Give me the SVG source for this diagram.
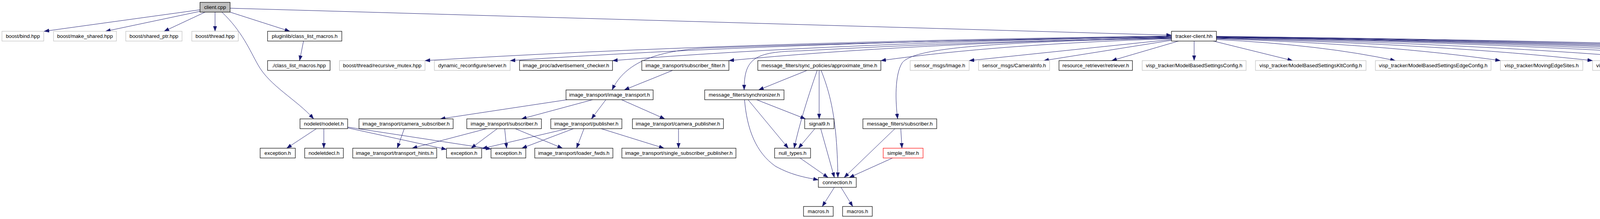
<svg xmlns="http://www.w3.org/2000/svg" width="5603" height="560" viewBox="0 0 5603 560">
<style>
rect{fill:#fff;stroke:#000;stroke-width:1.2}
.g rect{stroke:#bfbfbf}
.r rect{stroke:#ff0000}
.c rect{fill:#bfbfbf}
text{font-family:"Liberation Sans",Arial,sans-serif;font-size:13.3px;text-anchor:middle;fill:#000}
#edges path{fill:none;stroke:#191970;stroke-width:1;marker-end:url(#a)}
</style>
<defs>
<marker id="a" markerUnits="userSpaceOnUse" markerWidth="14" markerHeight="10" refX="13" refY="4.7" orient="auto">
<path d="M0,0 L13,4.7 L0,9.4 z" fill="#191970" stroke="#191970" stroke-width="0.5"/>
</marker>
</defs>
<rect x="0" y="0" width="5603" height="560" style="fill:#fff;stroke:none"/>
<g id="edges">
<path d="M512,25 L113,80"/>
<path d="M512,29 L270,80"/>
<path d="M525,31 L420,80"/>
<path d="M550.5,31 L550.5,80"/>
<path d="M589,31 L742,80"/>
<path d="M589,21 L2999,90"/>
<path d="M568,31 C620,80 640,130 660,165 C690,220 760,255 803,304"/>
<path d="M777,105 L767,155"/>
<path d="M2999,92 Q1852,108 1088,155"/>
<path d="M2999,93 Q1983,108.5 1306,155"/>
<path d="M2999,94 Q2141,109 1568,155"/>
<path d="M2999,95 Q2300,105 1804,123 C1680,130 1600,160 1567,230"/>
<path d="M2999,96 Q2319,111 1866,155"/>
<path d="M2999,97 Q2500,105 2050,130 C1930,132 1905,150 1905,230"/>
<path d="M2999,98 C2500,108 2340,125 2310,160 C2290,190 2292,260 2298,304"/>
<path d="M2999,99 Q2553,113 2255,155"/>
<path d="M2999,101 L2481,155"/>
<path d="M2999,103 L2672,155"/>
<path d="M3017,105 L2846,155"/>
<path d="M3057,105 L3057,155"/>
<path d="M3106,105 L3309,155"/>
<path d="M3114,101 Q3389,115 3572,155"/>
<path d="M3114,99 Q3550,113 3841,155"/>
<path d="M3114,98 Q3692,112.5 4077,155"/>
<path d="M3114,97 Q3819,112 4289,155"/>
<path d="M3114,96 Q3951,111 4509,155"/>
<path d="M3114,95 Q4031,110 4643,155"/>
<path d="M3114,95 Q4129,110 4805,155"/>
<path d="M3114,94 Q4199,109.5 4922,155"/>
<path d="M3114,94 Q4295,109.5 5082,155"/>
<path d="M3114,93 Q4372,109 5211,155"/>
<path d="M3114,93 Q4501,109 5425,155"/>
<path d="M1722,180 L1598,230"/>
<path d="M1452,255 L1127,304"/>
<path d="M1517,255 L1335,304"/>
<path d="M1551,255 L1514,304"/>
<path d="M1591,255 L1702,304"/>
<path d="M810,329 L734,379"/>
<path d="M829,329 L829,379"/>
<path d="M890,327 L1143,382"/>
<path d="M890,325 L1257,381"/>
<path d="M1035,329 L1017,379"/>
<path d="M1246,329 L1055,379"/>
<path d="M1273,329 L1206,379"/>
<path d="M1292,329 L1297,379"/>
<path d="M1319,329 L1440,379"/>
<path d="M1452,329 L1234,380"/>
<path d="M1468,329 L1336,379"/>
<path d="M1495,329 L1476,379"/>
<path d="M1539,329 L1700,379"/>
<path d="M1737,329 L1737,379"/>
<path d="M1906,255 C1912,330 1935,390 1985,425 C2030,450 2070,455 2095,460"/>
<path d="M1915,255 L2018,379"/>
<path d="M1937,255 L2062,304"/>
<path d="M2066,180 L1942,230"/>
<path d="M2092,180 Q2050,300 2033,379"/>
<path d="M2097,180 L2097,304"/>
<path d="M2102,180 C2130,250 2143,320 2145,454"/>
<path d="M2086,329 L2044,379"/>
<path d="M2101,329 L2136,454"/>
<path d="M2048,404 L2120,454"/>
<path d="M2291,329 L2161,454"/>
<path d="M2306,329 L2309,379"/>
<path d="M2285,404 L2174,454"/>
<path d="M2136,479 L2105,528"/>
<path d="M2153,479 L2183,528"/>
</g>
<g id="n_client" class="c"><rect x="512" y="6" width="77" height="25"/><text x="550.5" y="23">client.cpp</text></g>
<g id="n_bind" class="g"><rect x="5" y="80" width="107" height="25"/><text x="58.5" y="97">boost/bind.hpp</text></g>
<g id="n_make_shared" class="g"><rect x="137" y="80" width="161" height="25"/><text x="217.5" y="97">boost/make_shared.hpp</text></g>
<g id="n_shared_ptr" class="g"><rect x="322" y="80" width="144" height="25"/><text x="394" y="97">boost/shared_ptr.hpp</text></g>
<g id="n_thread" class="g"><rect x="491" y="80" width="119" height="25"/><text x="550.5" y="97">boost/thread.hpp</text></g>
<g id="n_pluginlib"><rect x="685" y="80" width="190" height="25"/><text x="780" y="97">pluginlib/class_list_macros.h</text></g>
<g id="n_tracker"><rect x="2999" y="80" width="115" height="25"/><text x="3056.5" y="97">tracker-client.hh</text></g>
<g id="n_clm_hpp"><rect x="685" y="155" width="160" height="25"/><text x="765" y="172">./class_list_macros.hpp</text></g>
<g id="n_recursive" class="g"><rect x="869" y="155" width="219" height="25"/><text x="978.5" y="172">boost/thread/recursive_mutex.hpp</text></g>
<g id="n_dynamic" class="g"><rect x="1112" y="155" width="194" height="25"/><text x="1209" y="172">dynamic_reconfigure/server.h</text></g>
<g id="n_advert"><rect x="1330" y="155" width="238" height="25"/><text x="1449" y="172">image_proc/advertisement_checker.h</text></g>
<g id="n_subfilter"><rect x="1643" y="155" width="223" height="25"/><text x="1754.5" y="172">image_transport/subscriber_filter.h</text></g>
<g id="n_approx"><rect x="1940" y="155" width="315" height="25"/><text x="2097.5" y="172">message_filters/sync_policies/approximate_time.h</text></g>
<g id="n_image" class="g"><rect x="2330" y="155" width="151" height="25"/><text x="2405.5" y="172">sensor_msgs/Image.h</text></g>
<g id="n_caminfo" class="g"><rect x="2505" y="155" width="182" height="25"/><text x="2596" y="172">sensor_msgs/CameraInfo.h</text></g>
<g id="n_retriever"><rect x="2711" y="155" width="188" height="25"/><text x="2805" y="172">resource_retriever/retriever.h</text></g>
<g id="n_mbs" class="g"><rect x="2924" y="155" width="266" height="25"/><text x="3057" y="172">visp_tracker/ModelBasedSettingsConfig.h</text></g>
<g id="n_mbsklt" class="g"><rect x="3214" y="155" width="283" height="25"/><text x="3355.5" y="172">visp_tracker/ModelBasedSettingsKltConfig.h</text></g>
<g id="n_mbsedge" class="g"><rect x="3521" y="155" width="296" height="25"/><text x="3669" y="172">visp_tracker/ModelBasedSettingsEdgeConfig.h</text></g>
<g id="n_mes" class="g"><rect x="3841" y="155" width="211" height="25"/><text x="3946.5" y="172">visp_tracker/MovingEdgeSites.h</text></g>
<g id="n_vpcp" class="g"><rect x="4077" y="155" width="187" height="25"/><text x="4170.5" y="172">visp/vpCameraParameters.h</text></g>
<g id="n_vphm" class="g"><rect x="4289" y="155" width="195" height="25"/><text x="4386.5" y="172">visp/vpHomogeneousMatrix.h</text></g>
<g id="n_vpimage" class="g"><rect x="4509" y="155" width="110" height="25"/><text x="4564" y="172">visp/vpImage.h</text></g>
<g id="n_vpmb" class="g"><rect x="4643" y="155" width="138" height="25"/><text x="4712" y="172">visp/vpMbTracker.h</text></g>
<g id="n_vpme" class="g"><rect x="4805" y="155" width="93" height="25"/><text x="4851.5" y="172">visp/vpMe.h</text></g>
<g id="n_vpklt" class="g"><rect x="4922" y="155" width="137" height="25"/><text x="4990.5" y="172">visp/vpKltOpencv.h</text></g>
<g id="n_vppose" class="g"><rect x="5082" y="155" width="105" height="25"/><text x="5134.5" y="172">visp/vpPose.h</text></g>
<g id="n_fstream" class="g"><rect x="5211" y="155" width="191" height="25"/><text x="5306.5" y="172">boost/filesystem/fstream.hpp</text></g>
<g id="n_path" class="g"><rect x="5425" y="155" width="173" height="25"/><text x="5511.5" y="172">boost/filesystem/path.hpp</text></g>
<g id="n_it"><rect x="1449" y="230" width="223" height="25"/><text x="1560.5" y="247">image_transport/image_transport.h</text></g>
<g id="n_sync"><rect x="1804" y="230" width="203" height="25"/><text x="1905.5" y="247">message_filters/synchronizer.h</text></g>
<g id="n_nodelet"><rect x="768" y="304" width="122" height="25"/><text x="829" y="321">nodelet/nodelet.h</text></g>
<g id="n_camsub"><rect x="919" y="304" width="241" height="25"/><text x="1039.5" y="321">image_transport/camera_subscriber.h</text></g>
<g id="n_sub"><rect x="1195" y="304" width="191" height="25"/><text x="1290.5" y="321">image_transport/subscriber.h</text></g>
<g id="n_pub"><rect x="1410" y="304" width="182" height="25"/><text x="1501" y="321">image_transport/publisher.h</text></g>
<g id="n_campub"><rect x="1619" y="304" width="233" height="25"/><text x="1735.5" y="321">image_transport/camera_publisher.h</text></g>
<g id="n_signal9"><rect x="2060" y="304" width="75" height="25"/><text x="2097.5" y="321">signal9.h</text></g>
<g id="n_msgsub"><rect x="2209" y="304" width="189" height="25"/><text x="2303.5" y="321">message_filters/subscriber.h</text></g>
<g id="n_exc1"><rect x="666" y="379" width="90" height="25"/><text x="711" y="396">exception.h</text></g>
<g id="n_nodeletdecl"><rect x="780" y="379" width="99" height="25"/><text x="829.5" y="396">nodeletdecl.h</text></g>
<g id="n_hints"><rect x="903" y="379" width="215" height="25"/><text x="1010.5" y="396">image_transport/transport_hints.h</text></g>
<g id="n_exc2"><rect x="1143" y="379" width="90" height="25"/><text x="1188" y="396">exception.h</text></g>
<g id="n_exc3"><rect x="1257" y="379" width="89" height="25"/><text x="1301.5" y="396">exception.h</text></g>
<g id="n_loader"><rect x="1369" y="379" width="200" height="25"/><text x="1469" y="396">image_transport/loader_fwds.h</text></g>
<g id="n_ssp"><rect x="1592" y="379" width="292" height="25"/><text x="1738" y="396">image_transport/single_subscriber_publisher.h</text></g>
<g id="n_null"><rect x="1983" y="379" width="92" height="25"/><text x="2029" y="396">null_types.h</text></g>
<g id="n_simple" class="r"><rect x="2261" y="379" width="102" height="25"/><text x="2312" y="396">simple_filter.h</text></g>
<g id="n_connection"><rect x="2095" y="454" width="97" height="25"/><text x="2143.5" y="471">connection.h</text></g>
<g id="n_macros1"><rect x="2057" y="528" width="76" height="25"/><text x="2095" y="545">macros.h</text></g>
<g id="n_macros2"><rect x="2157" y="528" width="76" height="25"/><text x="2195" y="545">macros.h</text></g>
</svg>
